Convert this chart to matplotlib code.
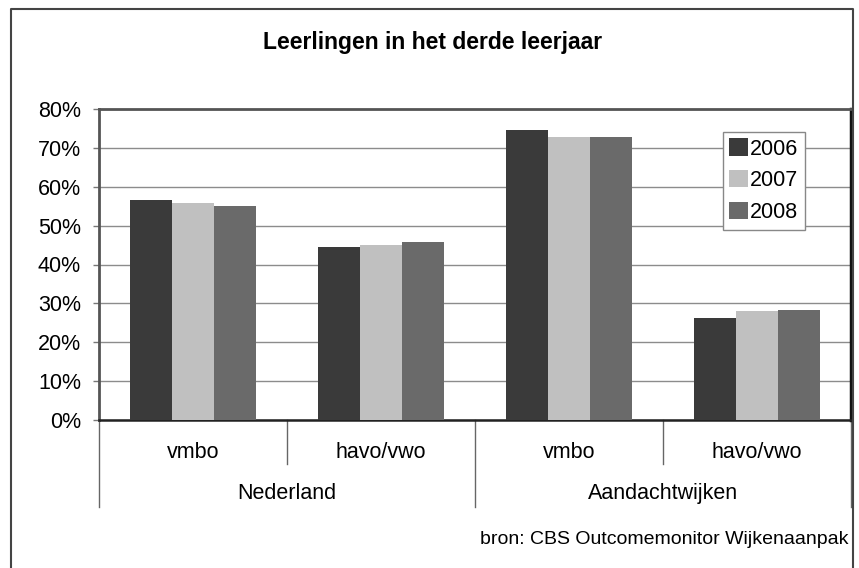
import matplotlib.pyplot as plt
from matplotlib.lines import Line2D
from matplotlib.ticker import PercentFormatter
import numpy as np

plt.rcParams["font.family"] = ["Liberation Sans", "DejaVu Sans"]

# data (percent)
groups = ["Nederland", "Aandachtwijken"]
levels = ["vmbo", "havo/vwo", "vmbo", "havo/vwo"]
years = ["2006", "2007", "2008"]
v2006 = [56.6, 44.4, 74.5, 26.3]
v2007 = [55.7, 45.1, 72.9, 28.0]
v2008 = [55.0, 45.8, 72.7, 28.2]
colors = ["#3a3a3a", "#c0c0c0", "#6a6a6a"]

fig = plt.figure(figsize=(8.59, 5.68), dpi=100)
ax = fig.add_axes([99 / 859, 1 - 420 / 568, (851 - 99) / 859, (420 - 109) / 568])

x = np.arange(len(levels))
w = 0.223
for i, (vals, year) in enumerate(zip([v2006, v2007, v2008], years)):
    ax.bar(x + (i - 1) * w, vals, width=w, color=colors[i], label=year, zorder=3)

ax.set_xlim(-0.5, len(levels) - 0.5)
ax.set_ylim(0, 80)
ax.set_yticks(np.arange(0, 81, 10))
ax.yaxis.set_major_formatter(PercentFormatter(decimals=0))
ax.tick_params(axis="y", labelsize=15.5, length=4, width=1, color="#777777", pad=9)
ax.set_xticks([])
ax.grid(axis="y", color="#8c8c8c", linewidth=1, zorder=0)

for side in ["left", "top"]:
    ax.spines[side].set_color("#555555")
    ax.spines[side].set_linewidth(2)
ax.spines["right"].set_color("#111111")
ax.spines["right"].set_linewidth(2.5)
ax.spines["bottom"].set_color("#222222")
ax.spines["bottom"].set_linewidth(1.8)

# two-level category axis
tr = ax.get_xaxis_transform()
for xi, lab in zip(x, levels):
    ax.text(xi, -0.103, lab, transform=tr, ha="center", va="center", fontsize=15.5)
for gi, g in enumerate(groups):
    ax.text(gi * 2 + 0.5, -0.236, g, transform=tr, ha="center", va="center", fontsize=15.5)
for xs in [0.5, 2.5]:
    ax.plot([xs, xs], [0, -0.1415], transform=tr, color="#666666", lw=1, clip_on=False)
for xs in [-0.5, 1.5, 3.5]:
    ax.plot([xs, xs], [0, -0.2797], transform=tr, color="#666666", lw=1, clip_on=False)

leg = ax.legend(loc="upper left", bbox_to_anchor=(0.8296, 0.926), borderaxespad=0,
                fontsize=15.5, fancybox=False, framealpha=1, edgecolor="#888888",
                handlelength=0.85, handleheight=0.85, handletextpad=0.12,
                labelspacing=0.5, borderpad=0.3)
leg.get_frame().set_linewidth(1)

fig.text(0.503, 1 - 42 / 568, "Leerlingen in het derde leerjaar", ha="center", va="center",
         fontsize=16.5, fontweight="bold")
fig.text(848 / 859, 1 - 540 / 568, "bron: CBS Outcomemonitor Wijkenaanpak", ha="right",
         va="center", fontsize=14)

# outer chart border (open at the bottom, as in the scan)
bx0, bx1, by1 = 11 / 859, 853 / 859, 1 - 9 / 568
fig.add_artist(Line2D([bx0, bx0, bx1, bx1], [0, by1, by1, 0], transform=fig.transFigure,
                      color="#444444", lw=1.5))

fig.savefig("out.png", dpi=100)
